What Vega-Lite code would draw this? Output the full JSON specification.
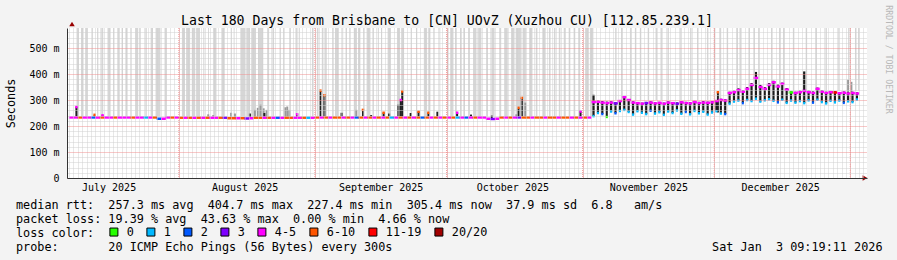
{
"$schema":"https://vega.github.io/schema/vega-lite/v6.json",
"width":800,"height":150,
"autosize":"none",
"padding":{"left":67,"top":28,"right":30,"bottom":82},
"background":"#f3f3f3",
"view":{"fill":"#ffffff","stroke":null},
"config":{"font":"DejaVu Sans Mono"},
"title":{"text":"Last 180 Days from Brisbane to [CN] UOvZ (Xuzhou CU) [112.85.239.1]","font":"DejaVu Sans Mono","fontSize":13.2,"fontWeight":"normal","color":"#000000","anchor":"middle","frame":"group","dx":-20,"dy":27,"offset":4},
"datasets":{
"months":[{"t":"2025-08-01T00:00"},{"t":"2025-09-01T00:00"},{"t":"2025-10-01T00:00"},{"t":"2025-11-01T00:00"},{"t":"2025-12-01T00:00"},{"t":"2026-01-01T00:00"}],
"bands":[
{"t":"2025-07-08T17:00","t2":"2025-07-09T06:00","b":236},
{"t":"2025-07-09T17:00","t2":"2025-07-10T07:00","b":236},
{"t":"2025-07-10T16:00","t2":"2025-07-11T06:00","b":236},
{"t":"2025-07-12T06:00","t2":"2025-07-12T11:00","b":236},
{"t":"2025-07-13T09:00","t2":"2025-07-13T16:00","b":236},
{"t":"2025-07-14T08:00","t2":"2025-07-14T19:00","b":236},
{"t":"2025-07-15T18:00","t2":"2025-07-16T11:00","b":236},
{"t":"2025-07-17T01:00","t2":"2025-07-17T08:00","b":236},
{"t":"2025-07-18T02:00","t2":"2025-07-18T13:00","b":236},
{"t":"2025-07-18T23:00","t2":"2025-07-19T07:00","b":236},
{"t":"2025-07-19T20:00","t2":"2025-07-20T08:00","b":236},
{"t":"2025-07-20T23:00","t2":"2025-07-21T04:00","b":236},
{"t":"2025-07-22T02:00","t2":"2025-07-22T18:00","b":236},
{"t":"2025-07-23T01:00","t2":"2025-07-23T08:00","b":236},
{"t":"2025-07-24T09:00","t2":"2025-07-24T17:00","b":236},
{"t":"2025-07-25T14:00","t2":"2025-07-26T03:00","b":236},
{"t":"2025-07-26T17:00","t2":"2025-07-27T20:00","b":236},
{"t":"2025-07-28T18:00","t2":"2025-07-29T06:00","b":236},
{"t":"2025-08-01T17:00","t2":"2025-08-02T10:00","b":236},
{"t":"2025-08-02T16:00","t2":"2025-08-03T14:00","b":236},
{"t":"2025-08-03T23:00","t2":"2025-08-04T18:00","b":236},
{"t":"2025-08-05T00:00","t2":"2025-08-05T20:00","b":236},
{"t":"2025-08-06T14:00","t2":"2025-08-06T20:00","b":236},
{"t":"2025-08-07T16:00","t2":"2025-08-07T21:00","b":236},
{"t":"2025-08-08T20:00","t2":"2025-08-09T14:00","b":236},
{"t":"2025-08-10T17:00","t2":"2025-08-11T11:00","b":236},
{"t":"2025-08-12T20:00","t2":"2025-08-13T01:00","b":236},
{"t":"2025-08-13T12:00","t2":"2025-08-13T17:00","b":236},
{"t":"2025-08-15T03:00","t2":"2025-08-16T02:00","b":236},
{"t":"2025-08-16T09:00","t2":"2025-08-17T06:00","b":236},
{"t":"2025-08-17T12:00","t2":"2025-08-18T14:00","b":236},
{"t":"2025-08-19T01:00","t2":"2025-08-20T06:00","b":236},
{"t":"2025-08-21T05:00","t2":"2025-08-21T14:00","b":236},
{"t":"2025-08-22T08:00","t2":"2025-08-22T17:00","b":236},
{"t":"2025-08-23T23:00","t2":"2025-08-24T05:00","b":236},
{"t":"2025-08-24T18:00","t2":"2025-08-24T23:00","b":236},
{"t":"2025-08-26T06:00","t2":"2025-08-26T13:00","b":236},
{"t":"2025-08-27T14:00","t2":"2025-08-27T22:00","b":236},
{"t":"2025-08-28T08:00","t2":"2025-08-28T14:00","b":236},
{"t":"2025-08-31T08:00","t2":"2025-08-31T17:00","b":236},
{"t":"2025-09-01T11:00","t2":"2025-09-01T20:00","b":236},
{"t":"2025-09-02T14:00","t2":"2025-09-02T23:00","b":236},
{"t":"2025-09-03T08:00","t2":"2025-09-03T17:00","b":236},
{"t":"2025-09-05T00:00","t2":"2025-09-05T07:00","b":236},
{"t":"2025-09-05T14:00","t2":"2025-09-06T11:00","b":236},
{"t":"2025-09-07T06:00","t2":"2025-09-07T11:00","b":236},
{"t":"2025-09-08T00:00","t2":"2025-09-08T07:00","b":236},
{"t":"2025-09-08T20:00","t2":"2025-09-09T01:00","b":236},
{"t":"2025-09-09T21:00","t2":"2025-09-10T14:00","b":236},
{"t":"2025-09-10T20:00","t2":"2025-09-11T09:00","b":236},
{"t":"2025-09-12T01:00","t2":"2025-09-12T08:00","b":236},
{"t":"2025-09-12T19:00","t2":"2025-09-13T16:00","b":236},
{"t":"2025-09-14T06:00","t2":"2025-09-14T11:00","b":236},
{"t":"2025-09-15T08:00","t2":"2025-09-15T14:00","b":236},
{"t":"2025-09-16T02:00","t2":"2025-09-16T08:00","b":236},
{"t":"2025-09-17T14:00","t2":"2025-09-18T08:00","b":236},
{"t":"2025-09-19T17:00","t2":"2025-09-20T10:00","b":236},
{"t":"2025-09-20T16:00","t2":"2025-09-21T08:00","b":236},
{"t":"2025-09-22T20:00","t2":"2025-09-23T02:00","b":236},
{"t":"2025-09-24T01:00","t2":"2025-09-24T08:00","b":236},
{"t":"2025-09-25T20:00","t2":"2025-09-26T14:00","b":236},
{"t":"2025-09-26T20:00","t2":"2025-09-27T08:00","b":236},
{"t":"2025-09-28T02:00","t2":"2025-09-28T07:00","b":236},
{"t":"2025-09-29T09:00","t2":"2025-09-29T14:00","b":236},
{"t":"2025-10-01T02:00","t2":"2025-10-01T11:00","b":236},
{"t":"2025-10-01T20:00","t2":"2025-10-02T14:00","b":236},
{"t":"2025-10-02T23:00","t2":"2025-10-03T08:00","b":236},
{"t":"2025-10-04T02:00","t2":"2025-10-04T11:00","b":236},
{"t":"2025-10-04T20:00","t2":"2025-10-05T05:00","b":236},
{"t":"2025-10-05T23:00","t2":"2025-10-06T08:00","b":236},
{"t":"2025-10-07T02:00","t2":"2025-10-07T20:00","b":236},
{"t":"2025-10-08T05:00","t2":"2025-10-08T23:00","b":236},
{"t":"2025-10-10T02:00","t2":"2025-10-10T11:00","b":236},
{"t":"2025-10-11T05:00","t2":"2025-10-11T23:00","b":236},
{"t":"2025-10-13T02:00","t2":"2025-10-13T11:00","b":236},
{"t":"2025-10-14T05:00","t2":"2025-10-14T23:00","b":236},
{"t":"2025-10-15T17:00","t2":"2025-10-16T12:00","b":236},
{"t":"2025-10-16T18:00","t2":"2025-10-17T23:00","b":236},
{"t":"2025-10-18T08:00","t2":"2025-10-19T02:00","b":236},
{"t":"2025-10-19T20:00","t2":"2025-10-20T14:00","b":236},
{"t":"2025-10-21T08:00","t2":"2025-10-21T17:00","b":236},
{"t":"2025-10-22T20:00","t2":"2025-10-23T14:00","b":236},
{"t":"2025-10-24T08:00","t2":"2025-10-24T17:00","b":236},
{"t":"2025-10-25T11:00","t2":"2025-10-25T20:00","b":236},
{"t":"2025-10-26T14:00","t2":"2025-10-26T23:00","b":236},
{"t":"2025-10-27T17:00","t2":"2025-10-28T02:00","b":236},
{"t":"2025-10-28T20:00","t2":"2025-10-29T05:00","b":236},
{"t":"2025-10-29T23:00","t2":"2025-10-30T08:00","b":236},
{"t":"2025-10-31T02:00","t2":"2025-10-31T11:00","b":236},
{"t":"2025-11-01T14:00","t2":"2025-11-02T10:00","b":236},
{"t":"2025-11-02T16:00","t2":"2025-11-03T11:00","b":236},
{"t":"2025-11-08T10:00","t2":"2025-11-08T18:00","b":300},
{"t":"2025-11-09T18:00","t2":"2025-11-10T02:00","b":300},
{"t":"2025-11-11T19:00","t2":"2025-11-12T03:00","b":300},
{"t":"2025-11-12T22:00","t2":"2025-11-13T06:00","b":300},
{"t":"2025-11-14T01:00","t2":"2025-11-14T09:00","b":300},
{"t":"2025-11-15T20:00","t2":"2025-11-16T04:00","b":300},
{"t":"2025-11-17T15:00","t2":"2025-11-17T23:00","b":300},
{"t":"2025-11-18T18:00","t2":"2025-11-19T02:00","b":300},
{"t":"2025-11-20T08:00","t2":"2025-11-20T16:00","b":300},
{"t":"2025-11-23T06:00","t2":"2025-11-23T14:00","b":300},
{"t":"2025-11-25T12:00","t2":"2025-11-25T20:00","b":300},
{"t":"2025-11-27T02:00","t2":"2025-11-27T10:00","b":300},
{"t":"2025-11-29T08:00","t2":"2025-11-29T16:00","b":300},
{"t":"2025-11-30T22:00","t2":"2025-12-01T06:00","b":300},
{"t":"2025-12-02T06:00","t2":"2025-12-02T14:00","b":305},
{"t":"2025-12-03T20:00","t2":"2025-12-04T04:00","b":336},
{"t":"2025-12-06T02:00","t2":"2025-12-06T10:00","b":345},
{"t":"2025-12-06T18:00","t2":"2025-12-07T02:00","b":340},
{"t":"2025-12-08T19:00","t2":"2025-12-09T03:00","b":350},
{"t":"2025-12-09T22:00","t2":"2025-12-10T06:00","b":365},
{"t":"2025-12-11T01:00","t2":"2025-12-11T09:00","b":358},
{"t":"2025-12-13T23:00","t2":"2025-12-14T07:00","b":374},
{"t":"2025-12-15T18:00","t2":"2025-12-16T02:00","b":360},
{"t":"2025-12-16T16:00","t2":"2025-12-17T00:00","b":367},
{"t":"2025-12-18T22:00","t2":"2025-12-19T06:00","b":336},
{"t":"2025-12-21T20:00","t2":"2025-12-22T04:00","b":336},
{"t":"2025-12-24T02:00","t2":"2025-12-24T10:00","b":348},
{"t":"2025-12-26T08:00","t2":"2025-12-26T16:00","b":336},
{"t":"2025-12-29T06:00","t2":"2025-12-29T14:00","b":336},
{"t":"2025-12-31T12:00","t2":"2025-12-31T20:00","b":378},
{"t":"2026-01-02T02:00","t2":"2026-01-02T10:00","b":336},
{"t":"2026-01-02T18:00","t2":"2026-01-03T02:00","b":336}
],
"smoke":[
{"t":"2025-07-08T16:00","lo":233,"hi":273,"s":"d","tc":"4-5"},
{"t":"2025-07-12T20:00","lo":233,"hi":243,"s":"d","tc":"6-10"},
{"t":"2025-07-14T15:00","lo":233,"hi":241,"s":"d","tc":"4-5"},
{"t":"2025-08-07T17:00","lo":232,"hi":245,"s":"m"},
{"t":"2025-08-08T20:00","lo":232,"hi":242,"s":"m"},
{"t":"2025-08-12T22:00","lo":230,"hi":251,"s":"m"},
{"t":"2025-08-13T19:00","lo":230,"hi":248,"s":"m"},
{"t":"2025-08-17T05:00","lo":230,"hi":248,"s":"d"},
{"t":"2025-08-18T08:00","lo":232,"hi":262,"s":"m"},
{"t":"2025-08-19T00:00","lo":232,"hi":270,"s":"m"},
{"t":"2025-08-19T15:00","lo":232,"hi":282,"s":"m"},
{"t":"2025-08-20T08:00","lo":232,"hi":268,"s":"m"},
{"t":"2025-08-20T12:00","lo":232,"hi":250,"s":"d"},
{"t":"2025-08-21T00:00","lo":232,"hi":262,"s":"m"},
{"t":"2025-08-25T06:00","lo":232,"hi":272,"s":"m"},
{"t":"2025-08-25T17:00","lo":232,"hi":275,"s":"m"},
{"t":"2025-08-26T04:00","lo":232,"hi":262,"s":"m"},
{"t":"2025-08-27T23:00","lo":232,"hi":245,"s":"d","tc":"4-5"},
{"t":"2025-09-02T06:00","lo":233,"hi":336,"s":"d","tc":"6-10"},
{"t":"2025-09-03T04:00","lo":233,"hi":318,"s":"d","tc":"6-10"},
{"t":"2025-09-07T02:00","lo":233,"hi":251,"s":"d"},
{"t":"2025-09-10T11:00","lo":233,"hi":262,"s":"m"},
{"t":"2025-09-11T23:00","lo":233,"hi":262,"s":"d","tc":"6-10"},
{"t":"2025-09-13T20:00","lo":233,"hi":242,"s":"d"},
{"t":"2025-09-16T16:00","lo":233,"hi":251,"s":"d","tc":"6-10"},
{"t":"2025-09-17T22:00","lo":233,"hi":248,"s":"d"},
{"t":"2025-09-20T01:00","lo":233,"hi":282,"s":"d"},
{"t":"2025-09-20T14:00","lo":233,"hi":300,"s":"d","tc":"4-5"},
{"t":"2025-09-20T22:00","lo":233,"hi":333,"s":"d","tc":"6-10"},
{"t":"2025-09-22T20:00","lo":233,"hi":250,"s":"d"},
{"t":"2025-09-24T15:00","lo":233,"hi":255,"s":"d","tc":"6-10"},
{"t":"2025-09-26T21:00","lo":233,"hi":251,"s":"d","tc":"6-10"},
{"t":"2025-09-28T22:00","lo":233,"hi":255,"s":"d"},
{"t":"2025-10-03T10:00","lo":233,"hi":251,"s":"d","tc":"4-5"},
{"t":"2025-10-06T14:00","lo":233,"hi":244,"s":"d"},
{"t":"2025-10-11T07:00","lo":227,"hi":240,"s":"d"},
{"t":"2025-10-16T22:00","lo":233,"hi":245,"s":"m"},
{"t":"2025-10-17T09:00","lo":233,"hi":270,"s":"d","tc":"6-10"},
{"t":"2025-10-18T04:00","lo":233,"hi":308,"s":"d","tc":"6-10"},
{"t":"2025-10-18T23:00","lo":233,"hi":290,"s":"m"},
{"t":"2025-10-31T13:00","lo":233,"hi":256,"s":"d","tc":"4-5"},
{"t":"2025-12-01T20:00","lo":252,"hi":330,"s":"d","tc":"6-10"},
{"t":"2025-12-31T12:00","lo":325,"hi":378,"s":"m"},
{"t":"2026-01-01T06:00","lo":325,"hi":370,"s":"m"}
],
"days":[
{"t":"2025-07-07T12:00","m":233,"c":"4-5"},
{"t":"2025-07-08T12:00","m":233,"c":"4-5"},
{"t":"2025-07-09T12:00","m":233,"c":"6-10"},
{"t":"2025-07-10T12:00","m":233,"c":"4-5"},
{"t":"2025-07-11T12:00","m":233,"c":"4-5"},
{"t":"2025-07-12T12:00","m":233,"c":"2"},
{"t":"2025-07-13T12:00","m":233,"c":"4-5"},
{"t":"2025-07-14T12:00","m":233,"c":"6-10"},
{"t":"2025-07-15T12:00","m":233,"c":"4-5"},
{"t":"2025-07-16T12:00","m":233,"c":"4-5"},
{"t":"2025-07-17T12:00","m":233,"c":"6-10"},
{"t":"2025-07-18T12:00","m":233,"c":"4-5"},
{"t":"2025-07-19T12:00","m":233,"c":"4-5"},
{"t":"2025-07-20T12:00","m":233,"c":"4-5"},
{"t":"2025-07-21T12:00","m":233,"c":"6-10"},
{"t":"2025-07-22T12:00","m":233,"c":"4-5"},
{"t":"2025-07-23T12:00","m":233,"c":"4-5"},
{"t":"2025-07-24T12:00","m":233,"c":"1"},
{"t":"2025-07-25T12:00","m":233,"c":"4-5"},
{"t":"2025-07-26T12:00","m":233,"c":"6-10"},
{"t":"2025-07-27T12:00","m":228,"c":"2"},
{"t":"2025-07-28T12:00","m":228,"c":"4-5"},
{"t":"2025-07-29T12:00","m":233,"c":"4-5"},
{"t":"2025-07-30T12:00","m":233,"c":"6-10"},
{"t":"2025-07-31T12:00","m":233,"c":"4-5"},
{"t":"2025-08-01T12:00","m":232,"c":"6-10"},
{"t":"2025-08-02T12:00","m":232,"c":"4-5"},
{"t":"2025-08-03T12:00","m":232,"c":"6-10"},
{"t":"2025-08-04T12:00","m":232,"c":"4-5"},
{"t":"2025-08-05T12:00","m":232,"c":"6-10"},
{"t":"2025-08-06T12:00","m":232,"c":"4-5"},
{"t":"2025-08-07T12:00","m":232,"c":"6-10"},
{"t":"2025-08-08T12:00","m":232,"c":"4-5"},
{"t":"2025-08-09T12:00","m":232,"c":"4-5"},
{"t":"2025-08-10T12:00","m":232,"c":"6-10"},
{"t":"2025-08-11T12:00","m":232,"c":"3"},
{"t":"2025-08-12T12:00","m":230,"c":"6-10"},
{"t":"2025-08-13T12:00","m":230,"c":"6-10"},
{"t":"2025-08-14T12:00","m":230,"c":"4-5"},
{"t":"2025-08-15T12:00","m":230,"c":"6-10"},
{"t":"2025-08-16T12:00","m":229,"c":"3"},
{"t":"2025-08-17T12:00","m":230,"c":"4-5"},
{"t":"2025-08-18T12:00","m":232,"c":"6-10"},
{"t":"2025-08-19T12:00","m":232,"c":"6-10"},
{"t":"2025-08-20T12:00","m":232,"c":"4-5"},
{"t":"2025-08-21T12:00","m":232,"c":"6-10"},
{"t":"2025-08-22T12:00","m":232,"c":"4-5"},
{"t":"2025-08-23T12:00","m":232,"c":"2"},
{"t":"2025-08-24T12:00","m":232,"c":"4-5"},
{"t":"2025-08-25T12:00","m":232,"c":"6-10"},
{"t":"2025-08-26T12:00","m":232,"c":"6-10"},
{"t":"2025-08-27T12:00","m":232,"c":"4-5"},
{"t":"2025-08-28T12:00","m":232,"c":"4-5"},
{"t":"2025-08-29T12:00","m":232,"c":"6-10"},
{"t":"2025-08-30T12:00","m":232,"c":"1"},
{"t":"2025-08-31T12:00","m":232,"c":"4-5"},
{"t":"2025-09-01T12:00","m":233,"c":"6-10"},
{"t":"2025-09-02T12:00","m":233,"c":"4-5"},
{"t":"2025-09-03T12:00","m":233,"c":"6-10"},
{"t":"2025-09-04T12:00","m":233,"c":"4-5"},
{"t":"2025-09-05T12:00","m":233,"c":"6-10"},
{"t":"2025-09-06T12:00","m":233,"c":"6-10"},
{"t":"2025-09-07T12:00","m":233,"c":"4-5"},
{"t":"2025-09-08T12:00","m":233,"c":"6-10"},
{"t":"2025-09-09T12:00","m":233,"c":"4-5"},
{"t":"2025-09-10T12:00","m":233,"c":"2"},
{"t":"2025-09-11T12:00","m":233,"c":"6-10"},
{"t":"2025-09-12T12:00","m":233,"c":"4-5"},
{"t":"2025-09-13T12:00","m":233,"c":"6-10"},
{"t":"2025-09-14T12:00","m":233,"c":"4-5"},
{"t":"2025-09-15T12:00","m":233,"c":"6-10"},
{"t":"2025-09-16T12:00","m":233,"c":"4-5"},
{"t":"2025-09-17T12:00","m":233,"c":"6-10"},
{"t":"2025-09-18T12:00","m":233,"c":"1"},
{"t":"2025-09-19T12:00","m":233,"c":"4-5"},
{"t":"2025-09-20T12:00","m":233,"c":"6-10"},
{"t":"2025-09-21T12:00","m":233,"c":"4-5"},
{"t":"2025-09-22T12:00","m":233,"c":"6-10"},
{"t":"2025-09-23T12:00","m":233,"c":"4-5"},
{"t":"2025-09-24T12:00","m":233,"c":"6-10"},
{"t":"2025-09-25T12:00","m":233,"c":"2"},
{"t":"2025-09-26T12:00","m":233,"c":"6-10"},
{"t":"2025-09-27T12:00","m":233,"c":"4-5"},
{"t":"2025-09-28T12:00","m":233,"c":"6-10"},
{"t":"2025-09-29T12:00","m":233,"c":"4-5"},
{"t":"2025-09-30T12:00","m":233,"c":"6-10"},
{"t":"2025-10-01T12:00","m":233,"c":"4-5"},
{"t":"2025-10-02T12:00","m":233,"c":"6-10"},
{"t":"2025-10-03T12:00","m":233,"c":"1"},
{"t":"2025-10-04T12:00","m":233,"c":"4-5"},
{"t":"2025-10-05T12:00","m":233,"c":"2"},
{"t":"2025-10-06T12:00","m":233,"c":"4-5"},
{"t":"2025-10-07T12:00","m":233,"c":"6-10"},
{"t":"2025-10-08T12:00","m":233,"c":"4-5"},
{"t":"2025-10-09T12:00","m":233,"c":"4-5"},
{"t":"2025-10-10T12:00","m":228,"c":"4-5"},
{"t":"2025-10-11T12:00","m":227,"c":"3"},
{"t":"2025-10-12T12:00","m":228,"c":"4-5"},
{"t":"2025-10-13T12:00","m":233,"c":"6-10"},
{"t":"2025-10-14T12:00","m":233,"c":"4-5"},
{"t":"2025-10-15T12:00","m":233,"c":"6-10"},
{"t":"2025-10-16T12:00","m":233,"c":"4-5"},
{"t":"2025-10-17T12:00","m":233,"c":"3"},
{"t":"2025-10-18T12:00","m":233,"c":"6-10"},
{"t":"2025-10-19T12:00","m":233,"c":"6-10"},
{"t":"2025-10-20T12:00","m":233,"c":"4-5"},
{"t":"2025-10-21T12:00","m":233,"c":"6-10"},
{"t":"2025-10-22T12:00","m":233,"c":"6-10"},
{"t":"2025-10-23T12:00","m":233,"c":"4-5"},
{"t":"2025-10-24T12:00","m":233,"c":"6-10"},
{"t":"2025-10-25T12:00","m":233,"c":"6-10"},
{"t":"2025-10-26T12:00","m":233,"c":"4-5"},
{"t":"2025-10-27T12:00","m":233,"c":"6-10"},
{"t":"2025-10-28T12:00","m":233,"c":"6-10"},
{"t":"2025-10-29T12:00","m":233,"c":"4-5"},
{"t":"2025-10-30T12:00","m":233,"c":"6-10"},
{"t":"2025-10-31T12:00","m":233,"c":"4-5"},
{"t":"2025-11-01T12:00","m":233,"c":"6-10"},
{"t":"2025-11-02T12:00","m":233,"c":"4-5"},
{"t":"2025-11-03T12:00","m":292,"c":"4-5","lo":238,"hi":320,"bc":"1"},
{"t":"2025-11-04T12:00","m":293,"c":"4-5","lo":250,"hi":298,"bc":"1"},
{"t":"2025-11-05T12:00","m":290,"c":"4-5","lo":246,"hi":296,"bc":"2"},
{"t":"2025-11-06T12:00","m":288,"c":"4-5","lo":235,"hi":294,"bc":"0"},
{"t":"2025-11-07T12:00","m":290,"c":"4-5","lo":256,"hi":295,"bc":"1"},
{"t":"2025-11-08T12:00","m":287,"c":"3","lo":249,"hi":292,"bc":"2"},
{"t":"2025-11-09T12:00","m":296,"c":"4-5","lo":258,"hi":300,"bc":"1"},
{"t":"2025-11-10T12:00","m":311,"c":"4-5","lo":262,"hi":315,"bc":"1"},
{"t":"2025-11-11T12:00","m":300,"c":"4-5","lo":254,"hi":304,"bc":"1"},
{"t":"2025-11-12T12:00","m":290,"c":"4-5","lo":244,"hi":295,"bc":"1"},
{"t":"2025-11-13T12:00","m":288,"c":"4-5","lo":257,"hi":292,"bc":"1"},
{"t":"2025-11-14T12:00","m":286,"c":"4-5","lo":251,"hi":290,"bc":"1"},
{"t":"2025-11-15T12:00","m":288,"c":"3","lo":246,"hi":293,"bc":"1"},
{"t":"2025-11-16T12:00","m":290,"c":"4-5","lo":259,"hi":295,"bc":"2"},
{"t":"2025-11-17T12:00","m":287,"c":"4-5","lo":248,"hi":291,"bc":"1"},
{"t":"2025-11-18T12:00","m":289,"c":"4-5","lo":253,"hi":293,"bc":"1"},
{"t":"2025-11-19T12:00","m":286,"c":"4-5","lo":243,"hi":290,"bc":"1"},
{"t":"2025-11-20T12:00","m":290,"c":"4-5","lo":256,"hi":295,"bc":"1"},
{"t":"2025-11-21T12:00","m":288,"c":"4-5","lo":250,"hi":292,"bc":"1"},
{"t":"2025-11-22T12:00","m":286,"c":"3","lo":260,"hi":291,"bc":"1"},
{"t":"2025-11-23T12:00","m":291,"c":"4-5","lo":247,"hi":295,"bc":"1"},
{"t":"2025-11-24T12:00","m":288,"c":"4-5","lo":254,"hi":293,"bc":"2"},
{"t":"2025-11-25T12:00","m":287,"c":"4-5","lo":245,"hi":292,"bc":"1"},
{"t":"2025-11-26T12:00","m":292,"c":"4-5","lo":258,"hi":297,"bc":"1"},
{"t":"2025-11-27T12:00","m":288,"c":"4-5","lo":249,"hi":293,"bc":"1"},
{"t":"2025-11-28T12:00","m":290,"c":"4-5","lo":255,"hi":296,"bc":"1"},
{"t":"2025-11-29T12:00","m":289,"c":"4-5","lo":244,"hi":294,"bc":"1"},
{"t":"2025-11-30T12:00","m":291,"c":"4-5","lo":252,"hi":296,"bc":"1"},
{"t":"2025-12-01T12:00","m":296,"c":"4-5","lo":257,"hi":300,"bc":"1"},
{"t":"2025-12-02T12:00","m":300,"c":"4-5","lo":248,"hi":305,"bc":"1"},
{"t":"2025-12-03T12:00","m":298,"c":"4-5","lo":246,"hi":303,"bc":"2"},
{"t":"2025-12-04T12:00","m":327,"c":"4-5","lo":286,"hi":332,"bc":"1"},
{"t":"2025-12-05T12:00","m":330,"c":"4-5","lo":294,"hi":336,"bc":"1"},
{"t":"2025-12-06T12:00","m":338,"c":"4-5","lo":298,"hi":345,"bc":"1"},
{"t":"2025-12-07T12:00","m":332,"c":"4-5","lo":288,"hi":338,"bc":"2"},
{"t":"2025-12-08T12:00","m":343,"c":"4-5","lo":300,"hi":350,"bc":"1"},
{"t":"2025-12-09T12:00","m":358,"c":"4-5","lo":296,"hi":365,"bc":"1"},
{"t":"2025-12-10T12:00","m":385,"c":"4-5","lo":305,"hi":408,"bc":"1"},
{"t":"2025-12-11T12:00","m":350,"c":"4-5","lo":294,"hi":358,"bc":"1"},
{"t":"2025-12-12T12:00","m":343,"c":"4-5","lo":299,"hi":350,"bc":"1"},
{"t":"2025-12-13T12:00","m":358,"c":"4-5","lo":303,"hi":365,"bc":"1"},
{"t":"2025-12-14T12:00","m":368,"c":"4-5","lo":297,"hi":374,"bc":"1"},
{"t":"2025-12-15T12:00","m":352,"c":"4-5","lo":291,"hi":360,"bc":"2"},
{"t":"2025-12-16T12:00","m":362,"c":"4-5","lo":301,"hi":367,"bc":"1"},
{"t":"2025-12-17T12:00","m":340,"c":"4-5","lo":289,"hi":346,"bc":"1"},
{"t":"2025-12-18T12:00","m":329,"c":"0","lo":298,"hi":333,"bc":"1"},
{"t":"2025-12-19T12:00","m":327,"c":"4-5","lo":290,"hi":332,"bc":"1"},
{"t":"2025-12-20T12:00","m":330,"c":"4-5","lo":296,"hi":336,"bc":"1"},
{"t":"2025-12-21T12:00","m":335,"c":"4-5","lo":288,"hi":410,"bc":"1"},
{"t":"2025-12-22T12:00","m":330,"c":"4-5","lo":299,"hi":336,"bc":"1"},
{"t":"2025-12-23T12:00","m":327,"c":"4-5","lo":290,"hi":333,"bc":"2"},
{"t":"2025-12-24T12:00","m":343,"c":"4-5","lo":301,"hi":348,"bc":"1"},
{"t":"2025-12-25T12:00","m":332,"c":"4-5","lo":292,"hi":338,"bc":"1"},
{"t":"2025-12-26T12:00","m":327,"c":"4-5","lo":287,"hi":332,"bc":"1"},
{"t":"2025-12-27T12:00","m":330,"c":"4-5","lo":297,"hi":335,"bc":"1"},
{"t":"2025-12-28T12:00","m":329,"c":"11-19","lo":291,"hi":334,"bc":"1"},
{"t":"2025-12-29T12:00","m":326,"c":"4-5","lo":298,"hi":331,"bc":"1"},
{"t":"2025-12-30T12:00","m":328,"c":"4-5","lo":289,"hi":333,"bc":"2"},
{"t":"2025-12-31T12:00","m":325,"c":"4-5","lo":295,"hi":331,"bc":"1"},
{"t":"2026-01-01T12:00","m":327,"c":"4-5","lo":292,"hi":332,"bc":"1"},
{"t":"2026-01-02T12:00","m":325,"c":"4-5","lo":302,"hi":330,"bc":"1"}
]
},
"resolve":{"axis":{"x":"independent","y":"independent"}},
"layer":[
{"data":{"name":"bands"},
 "mark":{"type":"rect","color":"#d6d6d6","clip":true},
 "encoding":{
  "x":{"field":"t","type":"temporal","scale":{"domain":["2025-07-07T16:00","2026-01-03T16:00"],"nice":false},"axis":null},
  "x2":{"field":"t2"},
  "y":{"field":"b","type":"quantitative",
   "scale":{"domain":[0,577],"nice":false,"zero":false},
   "axis":{"values":[0,20,40,60,80,100,120,140,160,180,200,220,240,260,280,300,320,340,360,380,400,420,440,460,480,500,520,540,560],
     "labelExpr":"datum.value % 100 == 0 ? (datum.value == 0 ? '0' : datum.value + ' m') : ''",
     "labelFont":"DejaVu Sans Mono","labelFontSize":10,"labelColor":"#000000","labelPadding":8,"labelOverlap":false,
     "ticks":false,"domainColor":"#333333",
     "gridColor":{"condition":{"test":"datum.value % 100 == 0","value":"#f09090"},"value":"#d0d0d0"},
     "gridDash":[1,1],"gridOpacity":1,"zindex":1,
     "title":"Seconds","titleFont":"DejaVu Sans Mono","titleFontSize":11.8,"titleFontWeight":"normal","titleColor":"#000000",
     "titleX":-57,"titleY":75,"titleAngle":-90,"titleAlign":"center","titleBaseline":"middle"}},
  "y2":{"datum":577}
 }},
{"data":{"name":"smoke"},"transform":[{"filter":"datum.s == 'm'"}],
 "mark":{"type":"bar","width":2,"color":"#9a9a9a","clip":true},
 "encoding":{"x":{"field":"t","type":"temporal","axis":null},"y":{"field":"lo","type":"quantitative","axis":null},"y2":{"field":"hi"}}},
{"data":{"name":"smoke"},"transform":[{"filter":"datum.s == 'd'"}],
 "mark":{"type":"bar","width":2,"color":"#202020","clip":true},
 "encoding":{"x":{"field":"t","type":"temporal","axis":null},"y":{"field":"lo","type":"quantitative","axis":null},"y2":{"field":"hi"}}},
{"data":{"name":"days"},"transform":[{"filter":"isValid(datum.lo)"}],
 "mark":{"type":"bar","width":2.2,"color":"#1c1c1c","clip":true},
 "encoding":{"x":{"field":"t","type":"temporal","axis":null},"y":{"field":"lo","type":"quantitative","axis":null},"y2":{"field":"hi"}}},
{"data":{"name":"days"},
 "mark":{"type":"tick","orient":"horizontal","size":4.7,"thickness":2.5,"opacity":1,"clip":true},
 "encoding":{
  "x":{"field":"t","type":"temporal",
   "axis":{"orient":"bottom","tickCount":180,
     "labelExpr":"date(datum.value) == 16 ? timeFormat(datum.value, '%B %Y') : ''",
     "labelOverlap":false,"labelFlush":false,
     "labelFont":"DejaVu Sans Mono","labelFontSize":10,"labelColor":"#000000","labelPadding":4,
     "ticks":false,"domainColor":"#333333","grid":true,"gridColor":"#d0d0d0",
     "gridDash":[1,1],"gridOpacity":1,"zindex":1,"title":null}},
  "y":{"field":"m","type":"quantitative","axis":null},
  "color":{"field":"c","type":"nominal",
   "scale":{"domain":["0","1","2","3","4-5","6-10","11-19","20/20"],"range":["#26ff00","#00b8ff","#0059ff","#7e00ff","#ff00ff","#ff5500","#ff0000","#a10000"]},
   "legend":{"orient":"none","legendX":41,"legendY":198,"direction":"horizontal","title":null,
     "symbolType":"square","symbolSize":64,"symbolStrokeColor":"#000000","symbolStrokeWidth":1,"symbolOpacity":1,
     "labelFont":"DejaVu Sans Mono","labelFontSize":11.8,"labelColor":"#000000","labelOffset":7,"columnPadding":10,"padding":0,"labelLimit":0}}}},
{"data":{"name":"days"},"transform":[{"filter":"isValid(datum.bc)"}],
 "mark":{"type":"tick","orient":"horizontal","size":2.2,"thickness":2.5,"opacity":1,"clip":true},
 "encoding":{"x":{"field":"t","type":"temporal","axis":null},"y":{"field":"lo","type":"quantitative","axis":null},
  "color":{"field":"bc","type":"nominal","legend":null}}},
{"data":{"name":"smoke"},"transform":[{"filter":"isValid(datum.tc)"}],
 "mark":{"type":"tick","orient":"horizontal","size":2.5,"thickness":2.5,"opacity":1,"clip":true},
 "encoding":{"x":{"field":"t","type":"temporal","axis":null},"y":{"field":"hi","type":"quantitative","axis":null},
  "color":{"field":"tc","type":"nominal","legend":null}}},
{"data":{"name":"months"},
 "mark":{"type":"rule","color":"#f4a0a0","strokeDash":[1,1],"strokeWidth":1},
 "encoding":{"x":{"field":"t","type":"temporal",
   "axis":{"orient":"top","labels":false,"ticks":false,"domain":false,
     "grid":true,"values":[{"year":2025,"month":8,"date":1},{"year":2025,"month":9,"date":1},{"year":2025,"month":10,"date":1},{"year":2025,"month":11,"date":1},{"year":2025,"month":12,"date":1},{"year":2026,"month":1,"date":1}],
     "gridColor":"#f09090","gridDash":[1,1],"gridOpacity":1,"zindex":1,
     "title":["median rtt:\u00a0\u00a0257.3 ms avg\u00a0\u00a0404.7 ms max\u00a0\u00a0227.4 ms min\u00a0\u00a0305.4 ms now\u00a0\u00a037.9 ms sd\u00a0\u00a06.8\u00a0\u00a0\u00a0am/s",
              "packet loss: 19.39 % avg\u00a0\u00a043.63 % max\u00a0\u00a00.00 % min\u00a0\u00a04.66 % now",
              "loss color:",
              "probe:\u00a0\u00a0\u00a0\u00a0\u00a0\u00a0\u00a020 ICMP Echo Pings (56 Bytes) every 300s\u00a0\u00a0\u00a0\u00a0\u00a0\u00a0\u00a0\u00a0\u00a0\u00a0\u00a0\u00a0\u00a0\u00a0\u00a0\u00a0\u00a0\u00a0\u00a0\u00a0\u00a0\u00a0\u00a0\u00a0\u00a0\u00a0\u00a0\u00a0\u00a0\u00a0\u00a0\u00a0\u00a0\u00a0\u00a0\u00a0\u00a0\u00a0\u00a0\u00a0\u00a0\u00a0\u00a0\u00a0\u00a0Sat Jan\u00a0\u00a03 09:19:11 2026"],
     "titleFont":"DejaVu Sans Mono","titleFontSize":11.8,"titleFontWeight":"normal","titleColor":"#000000",
     "titleX":-51.5,"titleY":171,"titleAlign":"left","titleBaseline":"top","titleLineHeight":14,"titleLimit":3000}}}},
{"data":{"values":[{"t":"2025-07-07T16:00","v":577}]},
 "mark":{"type":"point","shape":"triangle-up","filled":true,"color":"#990000","opacity":1,"size":30,"yOffset":-4,"clip":false},
 "encoding":{"x":{"field":"t","type":"temporal","axis":null},
  "y":{"field":"v","type":"quantitative",
   "axis":{"orient":"right","labels":false,"ticks":false,"domain":false,"grid":false,
     "title":"RRDTOOL / TOBI OETIKER","titleFont":"DejaVu Sans Mono","titleFontSize":8.2,"titleFontWeight":"normal","titleColor":"#b8b8b8",
     "titleAngle":90,"titleX":20,"titleY":31,"titleAlign":"center","titleBaseline":"middle"}}}},
{"data":{"values":[{"t":"2026-01-03T16:00","v":0}]},
 "mark":{"type":"point","shape":"triangle-right","filled":true,"color":"#990000","opacity":1,"size":30,"xOffset":3,"clip":false},
 "encoding":{"x":{"field":"t","type":"temporal","axis":null},"y":{"field":"v","type":"quantitative","axis":null}}}
]
}
